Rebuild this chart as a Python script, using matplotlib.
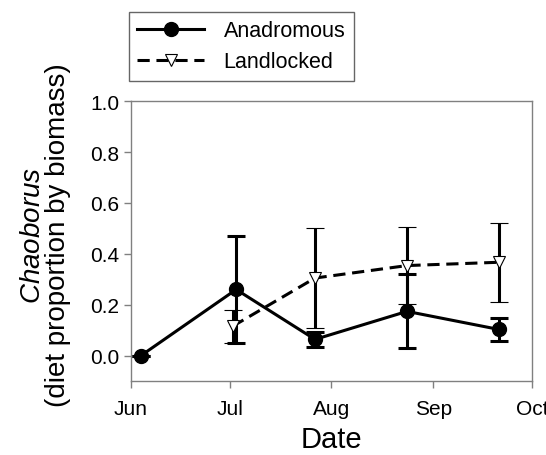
#!/usr/bin/env python3

import datetime as dt
import matplotlib
matplotlib.use('Agg')
import matplotlib.pyplot as plt
from matplotlib.lines import Line2D

plt.rcParams['font.family'] = ['Liberation Sans', 'DejaVu Sans']
plt.rcParams['mathtext.fontset'] = 'custom'
plt.rcParams['mathtext.it'] = 'Liberation Sans:italic'
plt.rcParams['mathtext.rm'] = 'Liberation Sans'

# values
anaDates = ['2010-06-04', '2010-07-03', '2010-07-27', '2010-08-24', '2010-09-21']
anaMean = [0.0, 0.26, 0.064, 0.174, 0.103]
anaErr = [0.0, 0.21, 0.028, 0.145, 0.046]

landDates = ['2010-07-02', '2010-07-27', '2010-08-24', '2010-09-21']
landMean = [0.116, 0.305, 0.354, 0.367]
landErr = [0.065, 0.195, 0.152, 0.155]

monthTicks = ['2010-06-01', '2010-07-01', '2010-08-01', '2010-09-01', '2010-10-01']
monthLabels = ['Jun', 'Jul', 'Aug', 'Sep', 'Oct']


def toDates(strs):
    return [dt.datetime.strptime(s, '%Y-%m-%d') for s in strs]


def main():
    fig = plt.figure(figsize=(5.46, 4.56), dpi=100)
    ax = fig.add_axes([0.240, 0.162, 0.734, 0.614])

    lw = 2.2
    dash = (0, (4, 2.2))
    ax.errorbar(toDates(anaDates), anaMean, yerr=anaErr, color='black',
                lw=lw, elinewidth=lw, capsize=6.5, capthick=lw,
                marker='o', ms=10, mfc='black', mec='black', zorder=3)
    h2 = ax.errorbar(toDates(landDates), landMean, yerr=landErr, color='black',
                     lw=lw, elinewidth=lw, capsize=6.5, capthick=lw,
                     ls=dash, marker='v', ms=9, mfc='white',
                     mec='black', mew=0.8, zorder=4)
    h2[-1][0].set_linestyle('-')

    ax.set_ylim(-0.1, 1.0)
    ax.set_yticks([0.0, 0.2, 0.4, 0.6, 0.8, 1.0])
    ax.set_yticklabels(['%.1f' % v for v in ax.get_yticks()])
    ax.set_xlim(toDates(monthTicks)[0], toDates(monthTicks)[-1])
    ax.set_xticks(toDates(monthTicks))
    ax.set_xticklabels(monthLabels)

    for s in ax.spines.values():
        s.set_color('#808080')
        s.set_linewidth(1.0)
    ax.tick_params(axis='both', colors='#808080', labelcolor='black',
                   labelsize=15, length=5, width=1.0, direction='out')
    ax.tick_params(axis='x', pad=8)

    ax.set_xlabel('Date', fontsize=21, labelpad=5)
    ax.set_ylabel('$\\mathit{Chaoborus}$\n(diet proportion by biomass)',
                  fontsize=20, linespacing=0.95)
    ax.yaxis.set_label_coords(-0.15, 0.525)

    handles = [
        Line2D([], [], color='black', lw=lw, marker='o', ms=10,
               mfc='black', mec='black'),
        Line2D([], [], color='black', lw=lw, ls=dash, marker='v', ms=9,
               mfc='white', mec='black', mew=0.8),
    ]
    leg = fig.legend(handles, ['Anadromous', 'Landlocked'], loc='upper left',
                     bbox_to_anchor=(0.236, 0.972), fontsize=15.5,
                     frameon=True, fancybox=False, edgecolor='#404040',
                     handlelength=3.1, borderpad=0.4, labelspacing=0.45,
                     handletextpad=0.9, borderaxespad=0)
    leg.get_frame().set_linewidth(1.0)

    fig.savefig('out.png', dpi=100)


if __name__ == '__main__':
    main()
